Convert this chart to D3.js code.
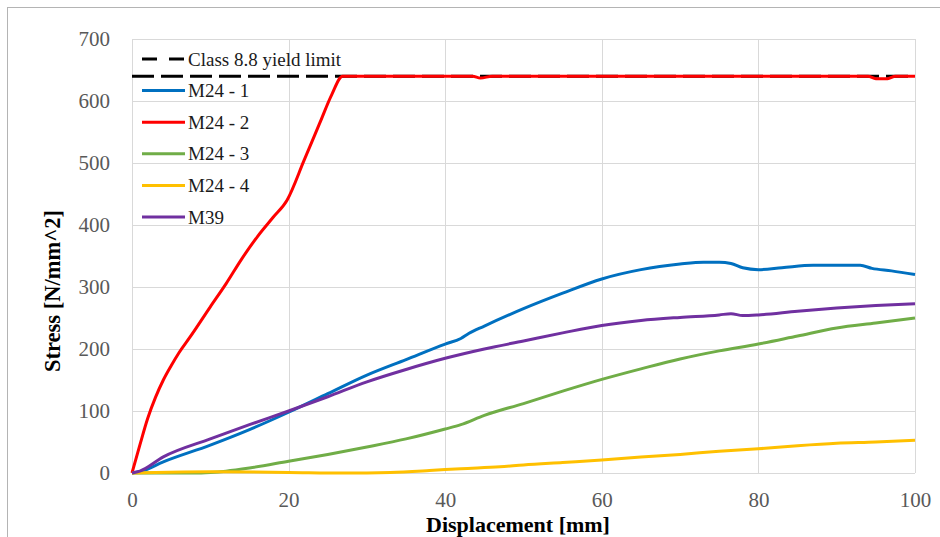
<!DOCTYPE html>
<html>
<head>
<meta charset="utf-8">
<script src="https://cdn.jsdelivr.net/npm/d3@7"></script>
<style>
  body { margin: 0; background: #fff; }
  #app { width: 940px; height: 537px; }
</style>
</head>
<body>
<div id="app"><div id="svgContainer"></div></div>
<script>
// series: displacement [mm] / stress [N/mm^2]
const m24_1_x = [0, 1, 4, 10, 15, 20, 25, 30, 35, 40, 42, 43, 45, 50, 55, 60, 65, 70, 73, 75, 76.5, 78, 80, 83, 87, 90, 93, 94.5, 97, 100];
const m24_1_y = [0, 2, 18, 45, 70, 98, 128, 158, 183, 208, 217, 225, 237, 265, 290, 313, 328, 337, 340, 340, 338, 331, 328, 331, 335, 335, 335, 330, 326, 320];

const m24_2_x = [0, 1, 2, 3, 4, 5, 6, 7.4, 10, 12, 14, 16, 18, 19.8, 22, 24, 25.5, 26.9, 40, 43.5, 44.5, 46, 60, 80, 94, 95, 96.5, 97.5, 100];
const m24_2_y = [0, 45, 88, 122, 150, 173, 194, 219, 268, 305, 345, 381, 412, 440, 505, 565, 610, 640, 640, 640, 637, 640, 640, 640, 640, 636, 636, 640, 640];

const m24_3_x = [0, 8, 10, 12, 15, 20, 25, 30, 35, 40, 42, 45, 50, 55, 60, 65, 70, 75, 80, 85, 90, 95, 100];
const m24_3_y = [0, 0, 1, 3, 8, 19, 30, 42, 55, 71, 78, 93, 112, 132, 151, 168, 184, 197, 208, 221, 234, 242, 250];

const m24_4_x = [0, 3, 10, 20, 27, 33, 38, 42, 47, 50, 55, 60, 65, 70, 75, 80, 85, 90, 95, 100];
const m24_4_y = [0, 1, 2, 1, 0, 1, 4, 7, 10, 13, 17, 21, 26, 30, 35, 39, 44, 48, 50, 53];

const m39_x = [0, 1, 4, 10, 15, 20, 25, 30, 35, 40, 45, 50, 55, 60, 65, 70, 75, 76.5, 78, 80, 85, 90, 95, 100];
const m39_y = [0, 3, 26, 55, 78, 100, 123, 147, 167, 185, 200, 213, 226, 238, 246, 251, 255, 257, 254, 255, 261, 266, 270, 273];

const yieldLimit = 640;

const seriesNames  = ["M24 - 1", "M24 - 2", "M24 - 3", "M24 - 4", "M39"];
const seriesColors = ["#0070C0", "#FF0000", "#70AD47", "#FFC000", "#7030A0"];
const seriesX = [m24_1_x, m24_2_x, m24_3_x, m24_4_x, m39_x];
const seriesY = [m24_1_y, m24_2_y, m24_3_y, m24_4_y, m39_y];

const xTicks = [0, 20, 40, 60, 80, 100];
const yTicks = [0, 100, 200, 300, 400, 500, 600, 700];

const FONT = "'Liberation Serif', 'Times New Roman', serif";
const W = 940, H = 537;
const m = { t: 39, r: 25, b: 64, l: 132 };

const svg = d3.select("#svgContainer")
                .append("svg")
                .attr("width", W)
                .attr("height", H);

// outer frame of the figure
svg.append("rect")
    .attr("x", 7.5).attr("y", 7.5)
    .attr("width", 1000).attr("height", 1000)
    .style("fill", "none")
    .style("stroke", "#b4b4b4");

const xScale = d3.scaleLinear().domain([0, 100]).range([m.l, W - m.r]);
const yScale = d3.scaleLinear().domain([0, 700]).range([H - m.b, m.t]);

// grid
const grid = svg.append("g").attr("class", "grid");
grid.selectAll("line.h")
    .data(yTicks).enter()
    .append("line")
        .attr("x1", xScale(0)).attr("x2", xScale(100))
        .attr("y1", d => Math.round(yScale(d)) + 0.5)
        .attr("y2", d => Math.round(yScale(d)) + 0.5)
        .style("stroke", "#d9d9d9");
grid.selectAll("line.v")
    .data(xTicks).enter()
    .append("line")
        .attr("y1", yScale(0)).attr("y2", yScale(700))
        .attr("x1", d => Math.round(xScale(d)) + 0.5)
        .attr("x2", d => Math.round(xScale(d)) + 0.5)
        .style("stroke", "#d9d9d9");

// axes: labels only
const yAxis = svg.append("g")
    .attr("transform", "translate(" + m.l + ",0)")
    .call(d3.axisLeft(yScale).tickValues(yTicks).tickSize(0).tickPadding(22));
const xAxis = svg.append("g")
    .attr("transform", "translate(0," + (H - m.b) + ")")
    .call(d3.axisBottom(xScale).tickValues(xTicks).tickSize(0).tickPadding(19));
[yAxis, xAxis].forEach(a => {
    a.attr("font-family", null).attr("font-size", null);
    a.select(".domain").remove();
    a.selectAll("text")
        .style("font-family", FONT)
        .style("font-size", "21px")
        .style("fill", "#595959");
});

// yield limit
svg.append("line")
    .attr("x1", xScale(0)).attr("x2", xScale(100))
    .attr("y1", yScale(yieldLimit)).attr("y2", yScale(yieldLimit))
    .style("stroke", "#000")
    .style("stroke-width", 3)
    .style("stroke-dasharray", "22,7");

const line = d3.line()
    .x(d => xScale(d[0]))
    .y(d => yScale(d[1]))
    .curve(d3.curveMonotoneX);

seriesNames.forEach((name, i) => {
    const pts = seriesX[i].map((x, j) => [x, seriesY[i][j]]);
    svg.append("path")
        .datum(pts)
        .attr("d", line)
        .style("fill", "none")
        .style("stroke", seriesColors[i])
        .style("stroke-width", 3)
        .style("stroke-linejoin", "round");
});

// legend
const legend = svg.append("g").attr("transform", "translate(142,0)");
const legendRows = [{ name: "Class 8.8 yield limit", color: "#000", dash: "15,12" }]
    .concat(seriesNames.map((n, i) => ({ name: n, color: seriesColors[i], dash: null })));
const rowY = d3.scaleLinear().domain([0, 5]).range([59, 217]);
legendRows.forEach((r, i) => {
    legend.append("line")
        .attr("x1", 0).attr("x2", 43)
        .attr("y1", rowY(i)).attr("y2", rowY(i))
        .style("stroke", r.color)
        .style("stroke-width", 3)
        .style("stroke-dasharray", r.dash);
    legend.append("text")
        .attr("x", 46).attr("y", rowY(i))
        .attr("dy", "0.35em")
        .style("font-family", FONT)
        .style("font-size", "19px")
        .style("fill", "#1a1a1a")
        .text(r.name);
});

// axis titles
svg.append("text")
    .attr("transform", "translate(52," + ((m.t + H - m.b) / 2 + 35) + ") rotate(-90)")
    .attr("text-anchor", "middle")
    .attr("dy", "0.35em")
    .style("font-family", FONT)
    .style("font-size", "22.5px")
    .style("font-weight", "bold")
    .text("Stress [N/mm^2]");

svg.append("text")
    .attr("x", 518).attr("y", 524)
    .attr("text-anchor", "middle")
    .attr("dy", "0.35em")
    .style("font-family", FONT)
    .style("font-size", "22px")
    .style("font-weight", "bold")
    .text("Displacement [mm]");
</script>
</body>
</html>
